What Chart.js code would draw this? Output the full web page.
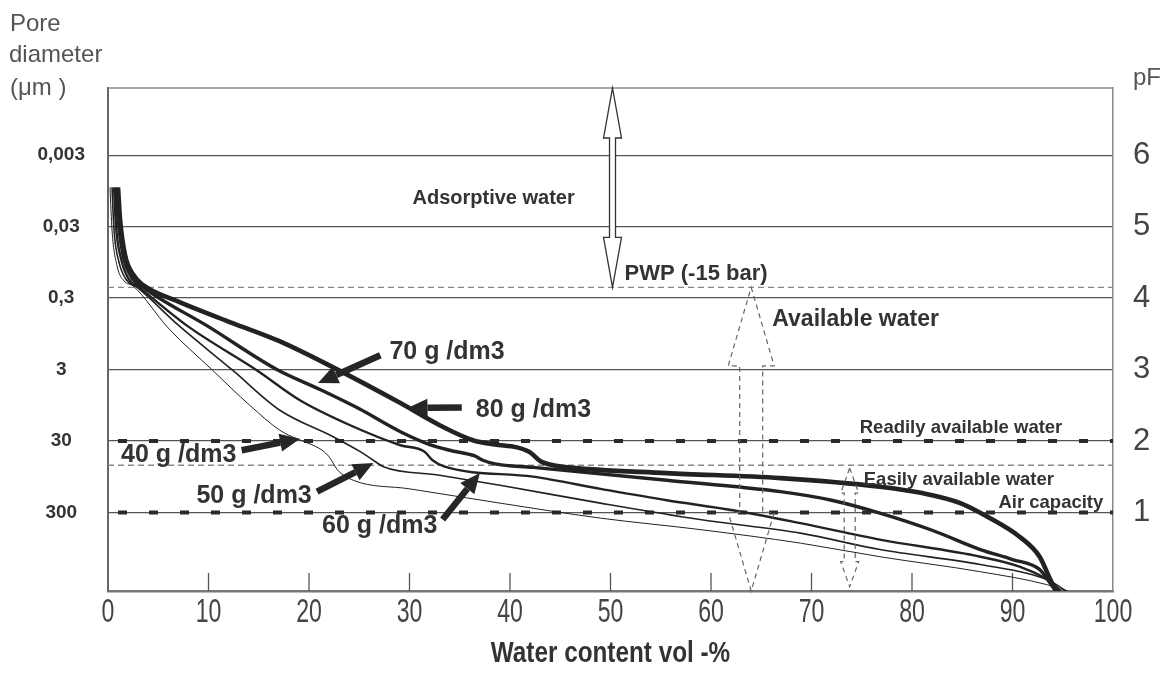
<!DOCTYPE html>
<html>
<head>
<meta charset="utf-8">
<script src="https://cdn.jsdelivr.net/npm/chart.js@4.4.0/dist/chart.umd.min.js"></script>
<style>
  html, body { margin: 0; padding: 0; background: #fff; }
</style>
</head>
<body>
<canvas id="myChart" width="1171" height="673"></canvas>
<script>
// water retention curves, points are [water content vol-%, pF]
var curve40 = [[0.2,5.55],[0.4,4.95],[0.9,4.45],[1.6,4.24],[2.5,4.17],[6,3.58],[10.4,2.99],[14.1,2.5],[17.1,2.15],[18.8,2.03],[20.4,1.94],[21.5,1.85],[22.1,1.76],[22.8,1.6],[24.4,1.45],[30,1.33],[39,1.13],[49,0.92],[58.9,0.76],[68.9,0.57],[76.8,0.38],[86.8,0.17],[93.4,-0.01],[96.4,-0.15]];
var curve50 = [[0.4,5.55],[0.6,4.95],[1.1,4.5],[1.8,4.26],[3,4.14],[7,3.62],[12.4,2.99],[17.1,2.43],[22.4,2.06],[25.1,1.85],[26.4,1.73],[27.4,1.64],[33,1.52],[39,1.38],[49,1.13],[58.9,0.9],[68.9,0.71],[76.8,0.48],[86.8,0.27],[93.4,0.06],[95.7,-0.13]];
var curve60 = [[0.6,5.55],[0.8,5.0],[1.3,4.55],[2,4.28],[3.2,4.14],[8,3.6],[14.8,2.99],[19.1,2.57],[24.1,2.22],[29.1,1.94],[31.5,1.85],[32.3,1.73],[33.5,1.64],[42.3,1.5],[49,1.33],[55.6,1.17],[62.2,1.03],[68.9,0.85],[76.8,0.62],[86.8,0.38],[90.7,0.24],[94,0.01],[95,-0.14]];
var curve70 = [[0.8,5.55],[1,5.1],[1.5,4.6],[2.3,4.3],[3.5,4.15],[10,3.6],[16.8,3.0],[21.1,2.72],[25,2.45],[29.1,2.13],[32,1.95],[34,1.87],[36.5,1.79],[37.3,1.73],[38.5,1.68],[42.3,1.63],[55.6,1.45],[66.9,1.29],[72,1.17],[76.8,0.99],[82,0.75],[86.8,0.48],[90,0.34],[92.7,0.2],[94,-0.04],[94.7,-0.15]];
var curve80 = [[1,5.55],[1.2,5.1],[1.7,4.6],[2.5,4.33],[3.5,4.18],[7,3.95],[12.4,3.65],[17,3.4],[22.4,3.03],[29.1,2.53],[33,2.22],[36.3,2.01],[38.5,1.95],[40.7,1.91],[42,1.84],[43,1.72],[44.3,1.66],[45.7,1.63],[55.6,1.55],[66.9,1.48],[76.8,1.36],[81,1.27],[84.8,1.13],[87.5,0.94],[90.7,0.66],[92.7,0.38],[93.7,0.08],[94.5,-0.15]];

var densities = ['40 g /dm3', '50 g /dm3', '60 g /dm3', '70 g /dm3', '80 g /dm3'];
var curves = [curve40, curve50, curve60, curve70, curve80];

var xTicks = [0, 10, 20, 30, 40, 50, 60, 70, 80, 90, 100];
var pfTicks = [1, 2, 3, 4, 5, 6];
var poreLabels = ['300', '30', '3', '0,3', '0,03', '0,003'];
var xTitle = 'Water content vol -%';

// reference levels (pF)
var pwpLevel = 4.15;
var easyLevel = 1.66;
var thickLevels = [1, 2];

var lineWidths = [1, 1.6, 2.4, 3.4, 4.6];
var sans = "'Liberation Sans', Arial, sans-serif";

// notes: text, x, pF, font size
var notes = [
  ['Adsorptive water', 30.3, 5.4, 20],
  ['PWP (-15 bar)', 51.4, 4.34, 22],
  ['Available water', 66.1, 3.7, 23],
  ['Readily available water', 74.8, 2.18, 18.5],
  ['Easily available water', 75.2, 1.45, 18.5],
  ['Air capacity', 88.6, 1.13, 18.5],
  [densities[3], 28.0, 3.24, 25],
  [densities[4], 36.6, 2.43, 25],
  [densities[0], 1.3, 1.8, 25],
  [densities[1], 8.8, 1.23, 25],
  [densities[2], 21.3, 0.81, 25]
];
// pointer arrows: tail x, tail pF, tip x, tip pF
var pointers = [
  [27.1, 3.2, 20.9, 2.81],
  [35.2, 2.47, 29.8, 2.46],
  [13.3, 1.87, 19.1, 2.03],
  [20.8, 1.29, 26.4, 1.69],
  [33.3, 0.9, 37.0, 1.55]
];

function seg(c, x1, y1, x2, y2) {
  c.beginPath(); c.moveTo(x1, y1); c.lineTo(x2, y2); c.stroke();
}

// squeezed text, the original uses a narrow face
function narrowText(c, txt, x, y, sq) {
  c.save();
  c.translate(x, y);
  c.scale(sq, 1);
  c.fillText(txt, 0, 0);
  c.restore();
}

// double arrow outline: x, top tip, top head base, bottom head base, bottom tip, head half width, shaft half width
function doubleArrow(c, chart, x, t1, b1, b2, t2, hw, sw) {
  var sx = chart.scales.x, sy = chart.scales.y;
  var cx = sx.getPixelForValue(x);
  var yT = sy.getPixelForValue(t1), yB1 = sy.getPixelForValue(b1);
  var yB2 = sy.getPixelForValue(b2), yT2 = sy.getPixelForValue(t2);
  c.beginPath();
  c.moveTo(cx, yT);
  c.lineTo(cx + hw, yB1); c.lineTo(cx + sw, yB1);
  c.lineTo(cx + sw, yB2); c.lineTo(cx + hw, yB2);
  c.lineTo(cx, yT2);
  c.lineTo(cx - hw, yB2); c.lineTo(cx - sw, yB2);
  c.lineTo(cx - sw, yB1); c.lineTo(cx - hw, yB1);
  c.closePath();
}

var soilPlugin = {
  id: 'soil',
  beforeDatasetsDraw: function (chart) {
    var c = chart.ctx, a = chart.chartArea, sy = chart.scales.y, sx = chart.scales.x;
    c.save();
    c.strokeStyle = '#888'; c.lineWidth = 1.3; c.setLineDash([6, 4]);
    [pwpLevel, easyLevel].forEach(function (v) {
      var y = sy.getPixelForValue(v); seg(c, a.left, y, a.right, y);
    });
    c.strokeStyle = '#2a2a2a'; c.lineWidth = 4; c.setLineDash([9, 22]); c.lineDashOffset = -10;
    thickLevels.forEach(function (v) {
      var y = sy.getPixelForValue(v); seg(c, a.left, y, a.right, y);
    });
    c.setLineDash([]);
    c.strokeStyle = '#888'; c.lineWidth = 1.5;
    seg(c, a.left, a.top, a.right, a.top);
    c.strokeStyle = '#555'; c.lineWidth = 1.3;
    sx.ticks.forEach(function (t) {
      if (t.value > 0 && t.value < 100) {
        var x = sx.getPixelForValue(t.value); seg(c, x, a.bottom, x, a.bottom - 18);
      }
    });
    c.restore();
  },
  afterDatasetsDraw: function (chart) {
    var c = chart.ctx, sy = chart.scales.y, sx = chart.scales.x;
    c.save();
    // adsorptive water hollow arrow
    c.strokeStyle = '#333'; c.lineWidth = 1.3; c.fillStyle = '#fff';
    doubleArrow(c, chart, 50.2, 6.94, 6.24, 4.85, pwpLevel, 9, 3);
    c.fill(); c.stroke();
    // dashed arrows
    c.strokeStyle = '#666'; c.lineWidth = 1.2; c.setLineDash([5, 4]);
    doubleArrow(c, chart, 64.0, pwpLevel, 3.05, 1.0, -0.1, 23, 11.5);
    c.stroke();
    doubleArrow(c, chart, 73.8, 1.62, 1.27, 0.31, -0.04, 9, 5.5);
    c.stroke();
    c.setLineDash([]);
    // pointer arrows
    c.strokeStyle = '#262626'; c.fillStyle = '#262626';
    pointers.forEach(function (p) {
      var x1 = sx.getPixelForValue(p[0]), y1 = sy.getPixelForValue(p[1]);
      var x2 = sx.getPixelForValue(p[2]), y2 = sy.getPixelForValue(p[3]);
      var ang = Math.atan2(y2 - y1, x2 - x1), hl = 20, hw = 9;
      var bx = x2 - hl * Math.cos(ang), by = y2 - hl * Math.sin(ang);
      c.lineWidth = 6.5; c.lineCap = 'butt';
      seg(c, x1, y1, bx, by);
      c.beginPath();
      c.moveTo(x2, y2);
      c.lineTo(bx + hw * Math.sin(ang), by - hw * Math.cos(ang));
      c.lineTo(bx - hw * Math.sin(ang), by + hw * Math.cos(ang));
      c.closePath(); c.fill();
    });
    // notes
    c.fillStyle = '#333'; c.textAlign = 'left'; c.textBaseline = 'middle';
    notes.forEach(function (n) {
      c.font = 'bold ' + n[3] + 'px ' + sans;
      c.fillText(n[0], sx.getPixelForValue(n[1]), sy.getPixelForValue(n[2]));
    });
    c.restore();
  },
  afterDraw: function (chart) {
    var c = chart.ctx, a = chart.chartArea, sx = chart.scales.x;
    c.save();
    c.fillStyle = '#555'; c.textAlign = 'left'; c.textBaseline = 'middle';
    c.font = '24px ' + sans;
    c.fillText('Pore', 10, 24);
    c.fillText('diameter', 9, 55);
    c.fillText('(\u03bcm )', 10, 88);
    c.fillText('pF', a.right + 20, a.top - 10);
    // x tick labels, placed by the x scale
    c.fillStyle = '#444'; c.textAlign = 'center';
    c.font = '33px ' + sans;
    sx.ticks.forEach(function (t) {
      narrowText(c, String(t.value), sx.getPixelForValue(t.value), a.bottom + 22, 0.7);
    });
    c.fillStyle = '#333';
    c.font = 'bold 30px ' + sans;
    narrowText(c, xTitle, (a.left + a.right) / 2, a.bottom + 63, 0.81);
    c.restore();
  }
};

var ctx = document.getElementById('myChart').getContext('2d');
var myChart = new Chart(ctx, {
  type: 'scatter',
  data: {
    datasets: densities.map(function (d, i) {
      return {
        label: d,
        data: curves[i].map(function (p) { return { x: p[0], y: p[1] }; }),
        showLine: true,
        borderColor: '#222',
        borderWidth: lineWidths[i],
        pointRadius: 0,
        cubicInterpolationMode: 'monotone',
        fill: false
      };
    })
  },
  options: {
    responsive: false,
    animation: false,
    layout: { padding: { top: 88, left: 0, right: 0, bottom: 0 } },
    plugins: { legend: { display: false }, tooltip: { enabled: false } },
    scales: {
      x: {
        type: 'linear', min: 0, max: 100, position: 'bottom',
        afterFit: function (s) { s.height = 82; },
        afterBuildTicks: function (s) { s.ticks = xTicks.map(function (v) { return { value: v }; }); },
        ticks: { display: false },
        grid: { display: false, drawTicks: false },
        border: { display: true, color: '#777', width: 2.5 }
      },
      y: {
        type: 'linear', min: -0.1, max: 6.94, position: 'left',
        afterFit: function (s) { s.width = 108; },
        afterBuildTicks: function (s) { s.ticks = pfTicks.map(function (v) { return { value: v }; }); },
        ticks: {
          callback: function (v) { return poreLabels[pfTicks.indexOf(v)]; },
          font: { family: sans, size: 19, weight: 'bold' }, color: '#333', crossAlign: 'center', padding: 23
        },
        grid: { color: '#555', lineWidth: 1.3, drawTicks: false },
        border: { display: true, color: '#666', width: 2 }
      },
      y2: {
        type: 'linear', min: -0.1, max: 6.94, position: 'right',
        afterFit: function (s) { s.width = 58; },
        afterBuildTicks: function (s) { s.ticks = pfTicks.map(function (v) { return { value: v }; }); },
        ticks: { font: { family: sans, size: 31 }, color: '#444', padding: 20 },
        grid: { display: false, drawTicks: false },
        border: { display: true, color: '#888', width: 1.5 }
      }
    }
  },
  plugins: [soilPlugin]
});
</script>
</body>
</html>
